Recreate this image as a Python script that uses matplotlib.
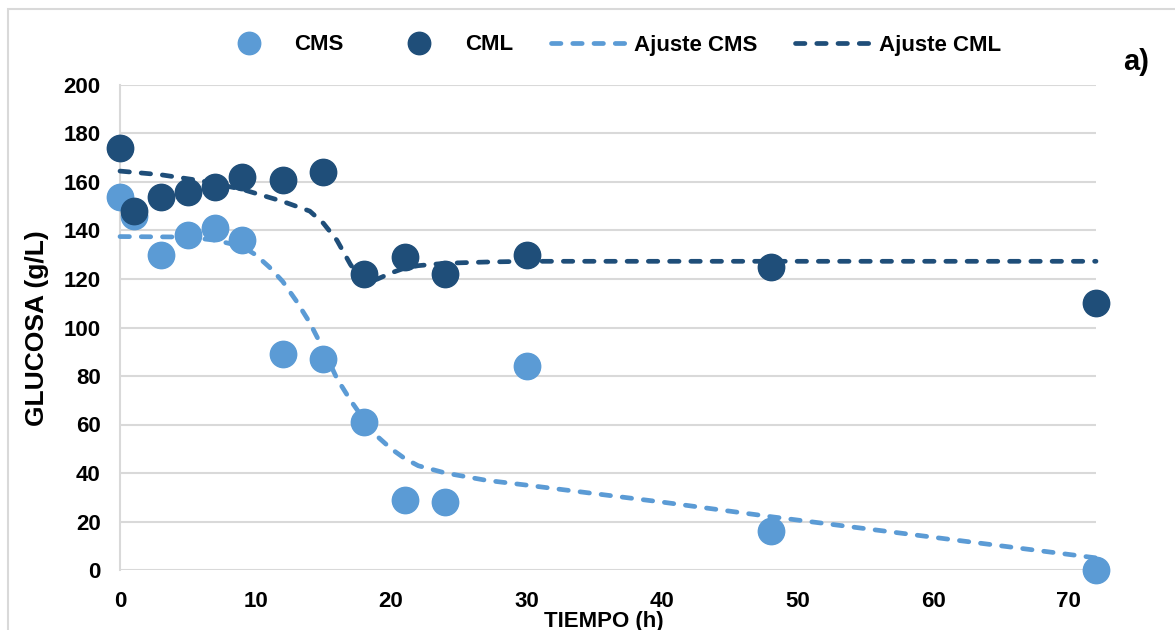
import matplotlib.pyplot as plt
from matplotlib.patches import Rectangle

plt.rcParams["font.family"] = ["Liberation Sans", "DejaVu Sans"]
plt.rcParams["font.weight"] = "bold"

LIGHT = "#5B9BD5"
DARK = "#1F4E79"
GRID = "#D9D9D9"

# measured points
tiempo = [0, 1, 3, 5, 7, 9, 12, 15, 18, 21, 24, 30, 48, 72]
cms = [154, 146, 130, 138, 141, 136, 89, 87, 61, 29, 28, 84, 16, 0]
cml = [174, 148, 154, 156, 158, 162, 161, 164, 122, 129, 122, 130, 125, 110]

# fitted curves
fit_cms_t = [0, 5, 7, 9, 10, 11, 12, 13, 14, 15, 16, 17, 18, 19, 20, 21, 22, 24, 27, 30, 35, 40, 48, 60, 72]
fit_cms_y = [137.5, 137.3, 136, 133.5, 130, 125, 119, 111, 102, 91, 79, 70, 62, 55, 50, 46, 43, 40, 37, 35, 31.5, 28, 22, 13.5, 5]
fit_cml_t = [0, 3, 6, 9, 12, 14, 15, 16, 17, 18, 19, 20, 21, 22, 24, 27, 30, 72]
fit_cml_y = [164.5, 163, 160.5, 157, 152, 148, 143, 136, 126, 118, 120, 122.5, 124.5, 125.5, 126.5, 127, 127.3, 127.3]

yticks = [0, 20, 40, 60, 80, 100, 120, 140, 160, 180, 200]
xticks = [0, 10, 20, 30, 40, 50, 60, 70]

fig = plt.figure(figsize=(11.75, 6.3), dpi=100)
ax = fig.add_axes([120 / 1175, 1 - 570 / 630, 976 / 1175, 485 / 630])

# light frame around the chart area
fig.patches.append(Rectangle((8 / 1175, -0.2), 1.2, 0.2 + 1 - 9 / 630, transform=fig.transFigure,
                             fill=False, edgecolor=GRID, linewidth=1.5))

ms = 19
ax.plot(tiempo, cms, "o", color=LIGHT, markersize=ms, label="CMS", zorder=3, clip_on=False)
ax.plot(tiempo, cml, "o", color=DARK, markersize=ms, label="CML", zorder=3, clip_on=False)
ax.plot(fit_cms_t, fit_cms_y, color=LIGHT, linewidth=3.4, dashes=(2.0, 2.5),
        dash_capstyle="round", label="Ajuste CMS", zorder=4, clip_on=False)
ax.plot(fit_cml_t, fit_cml_y, color=DARK, linewidth=3.4, dashes=(2.0, 2.5),
        dash_capstyle="round", label="Ajuste CML", zorder=4, clip_on=False)

ax.set_xlim(0, 72)
ax.set_ylim(0, 200)
ax.set_xticks(xticks)
ax.set_yticks(yticks)
ax.grid(axis="y", color=GRID, linewidth=1.5)
ax.set_axisbelow(True)
for side in ("top", "right", "bottom"):
    ax.spines[side].set_visible(False)
ax.spines["left"].set_color(GRID)
ax.spines["left"].set_linewidth(1.5)
ax.tick_params(length=0, labelsize=16)
ax.tick_params(axis="y", pad=14)
ax.tick_params(axis="x", pad=15)
for lbl in ax.get_xticklabels() + ax.get_yticklabels():
    lbl.set_fontweight("bold")

fig.text(37 / 1175, 1 - 328 / 630, "GLUCOSA (g/L)", rotation=90, ha="center", va="center",
         fontsize=19, fontweight="bold")
fig.text(604 / 1175, 1 - 621 / 630, "TIEMPO (h)", ha="center", va="center",
         fontsize=16, fontweight="bold")
fig.text(1136 / 1175, 1 - 62 / 630, "a)", ha="center", va="center",
         fontsize=21, fontweight="bold")

fig.legend(loc="center", bbox_to_anchor=(606 / 1175, 1 - 45 / 630), ncol=4, frameon=False,
           fontsize=16, handlelength=3.4, handletextpad=0.35, columnspacing=1.7,
           markerscale=0.85)

fig.savefig("out.png", dpi=100)
